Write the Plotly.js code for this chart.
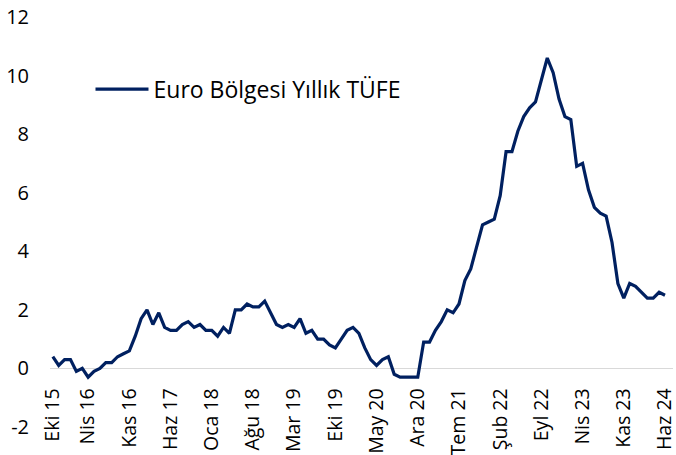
<!DOCTYPE html>
<html>
<head>
<meta charset="utf-8">
<script src="https://cdn.plot.ly/plotly-3.0.1.min.js"></script>
<style>
  html, body { margin: 0; padding: 0; background: #ffffff; }
  #chart { width: 676px; height: 455px; }
</style>
</head>
<body>
<div id="chart"></div>
<script>
// Months, Oct 2015 - Jun 2024
const months = [
  'Eki 15','Kas 15','Ara 15',
  'Oca 16','Şub 16','Mar 16','Nis 16','May 16','Haz 16','Tem 16','Ağu 16','Eyl 16','Eki 16','Kas 16','Ara 16',
  'Oca 17','Şub 17','Mar 17','Nis 17','May 17','Haz 17','Tem 17','Ağu 17','Eyl 17','Eki 17','Kas 17','Ara 17',
  'Oca 18','Şub 18','Mar 18','Nis 18','May 18','Haz 18','Tem 18','Ağu 18','Eyl 18','Eki 18','Kas 18','Ara 18',
  'Oca 19','Şub 19','Mar 19','Nis 19','May 19','Haz 19','Tem 19','Ağu 19','Eyl 19','Eki 19','Kas 19','Ara 19',
  'Oca 20','Şub 20','Mar 20','Nis 20','May 20','Haz 20','Tem 20','Ağu 20','Eyl 20','Eki 20','Kas 20','Ara 20',
  'Oca 21','Şub 21','Mar 21','Nis 21','May 21','Haz 21','Tem 21','Ağu 21','Eyl 21','Eki 21','Kas 21','Ara 21',
  'Oca 22','Şub 22','Mar 22','Nis 22','May 22','Haz 22','Tem 22','Ağu 22','Eyl 22','Eki 22','Kas 22','Ara 22',
  'Oca 23','Şub 23','Mar 23','Nis 23','May 23','Haz 23','Tem 23','Ağu 23','Eyl 23','Eki 23','Kas 23','Ara 23',
  'Oca 24','Şub 24','Mar 24','Nis 24','May 24','Haz 24'
];

// Euro Bölgesi yıllık TÜFE (%)
const tufe = [
  0.4, 0.1, 0.3,
  0.3, -0.1, 0.0, -0.3, -0.1, 0.0, 0.2, 0.2, 0.4, 0.5, 0.6, 1.1,
  1.7, 2.0, 1.5, 1.9, 1.4, 1.3, 1.3, 1.5, 1.6, 1.4, 1.5, 1.3,
  1.3, 1.1, 1.4, 1.2, 2.0, 2.0, 2.2, 2.1, 2.1, 2.3, 1.9, 1.5,
  1.4, 1.5, 1.4, 1.7, 1.2, 1.3, 1.0, 1.0, 0.8, 0.7, 1.0, 1.3,
  1.4, 1.2, 0.7, 0.3, 0.1, 0.3, 0.4, -0.2, -0.3, -0.3, -0.3, -0.3,
  0.9, 0.9, 1.3, 1.6, 2.0, 1.9, 2.2, 3.0, 3.4, 4.1, 4.9, 5.0,
  5.1, 5.9, 7.4, 7.4, 8.1, 8.6, 8.9, 9.1, 9.9, 10.6, 10.1, 9.2,
  8.6, 8.5, 6.9, 7.0, 6.1, 5.5, 5.3, 5.2, 4.3, 2.9, 2.4, 2.9,
  2.8, 2.6, 2.4, 2.4, 2.6, 2.5
];

const xTickLabels = ['Eki 15','Nis 16','Kas 16','Haz 17','Oca 18','Ağu 18','Mar 19','Eki 19',
  'May 20','Ara 20','Tem 21','Şub 22','Eyl 22','Nis 23','Kas 23','Haz 24'];
const yTickValues = [-2, 0, 2, 4, 6, 8, 10, 12];
const seriesName = 'Euro Bölgesi Yıllık TÜFE';

const FONT = '"Open Sans", "Noto Sans", sans-serif';

const trace = {
  type: 'scatter',
  mode: 'lines',
  name: seriesName,
  x: months,
  y: tufe,
  line: { color: '#002060', width: 3.2 },
  showlegend: true
};

const layout = {
  width: 676,
  height: 455,
  margin: { l: 50, r: 3, t: 17, b: 28, pad: 0 },
  paper_bgcolor: '#ffffff',
  plot_bgcolor: '#ffffff',
  font: { family: FONT, color: '#000000', size: 19 },
  xaxis: {
    type: 'category',
    categoryorder: 'array',
    categoryarray: months,
    range: [-0.48, 105.36],
    anchor: 'free',
    position: 2 / 14,
    tickmode: 'array',
    tickvals: xTickLabels,
    ticktext: xTickLabels,
    tickangle: -90,
    ticks: '',
    ticklabelstandoff: 15,
    showgrid: false,
    showline: false,
    zeroline: false,
    tickfont: { family: FONT, size: 19.5, color: '#000000' }
  },
  yaxis: {
    range: [-2, 12],
    tickmode: 'array',
    tickvals: yTickValues,
    ticktext: yTickValues.map(String),
    ticks: '',
    ticklabelstandoff: 20,
    showgrid: false,
    showline: false,
    zeroline: true,
    zerolinecolor: '#d9d9d9',
    zerolinewidth: 1.8,
    tickfont: { family: FONT, size: 20, color: '#000000' }
  },
  showlegend: true,
  legend: {
    x: 0.065,
    y: 0.824,
    xanchor: 'left',
    yanchor: 'middle',
    bgcolor: 'rgba(0,0,0,0)',
    borderwidth: 0,
    itemwidth: 53,
    font: { family: FONT, size: 23, color: '#000000' }
  }
};

Plotly.newPlot('chart', [trace], layout, { displayModeBar: false, staticPlot: true });
</script>
</body>
</html>
